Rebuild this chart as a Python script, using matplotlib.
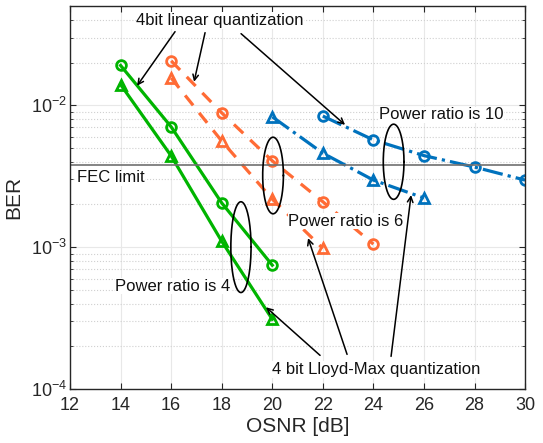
import numpy as np
import matplotlib
matplotlib.use("Agg")
import matplotlib.pyplot as plt
from matplotlib.ticker import LogLocator, NullFormatter, FixedLocator

plt.rcParams['font.family'] = ['Liberation Sans', 'DejaVu Sans']
plt.rcParams['mathtext.fontset'] = 'custom'
plt.rcParams['mathtext.rm'] = 'Liberation Sans'

# data
osnr_r4 = [14, 16, 18, 20]
ber_r4_lin = [0.0191, 7.05e-3, 2.05e-3, 7.46e-4]
ber_r4_lm = [0.0140, 4.4e-3, 1.1e-3, 3.1e-4]

osnr_r6_lin = [16, 18, 20, 22, 24]
ber_r6_lin = [0.0206, 8.85e-3, 4.06e-3, 2.09e-3, 1.05e-3]
osnr_r6_lm = [16, 18, 20, 22]
ber_r6_lm = [0.0156, 5.6e-3, 2.18e-3, 0.98e-3]

osnr_r10_lin = [22, 24, 26, 28, 30]
ber_r10_lin = [8.4e-3, 5.7e-3, 4.42e-3, 3.67e-3, 2.97e-3]
osnr_r10_lm = [20, 22, 24, 26]
ber_r10_lm = [8.3e-3, 4.6e-3, 2.97e-3, 2.22e-3]

fec_limit = 3.8e-3

green = '#00b400'
orange = '#ff6b35'
blue = '#0072bd'

fig = plt.figure(figsize=(5.43, 4.43), dpi=100)
ax = fig.add_axes([0.129, 0.122, 0.838, 0.864])

lw = 2.3
mk = dict(markersize=7, markerfacecolor='none', markeredgewidth=2)
ax.semilogy(osnr_r4, ber_r4_lin, '-', color=green, marker='o', lw=lw, **mk)
ax.semilogy(osnr_r4, ber_r4_lm, '-', color=green, marker='^', lw=lw, **mk)
ax.semilogy(osnr_r6_lin, ber_r6_lin, '--', color=orange, marker='o', lw=lw, dashes=(4, 3), **mk)
ax.semilogy(osnr_r6_lm, ber_r6_lm, '--', color=orange, marker='^', lw=lw, dashes=(4, 3), **mk)
ax.semilogy(osnr_r10_lin, ber_r10_lin, '-.', color=blue, marker='o', lw=lw, **mk)
ax.semilogy(osnr_r10_lm, ber_r10_lm, '-.', color=blue, marker='^', lw=lw, **mk)

ax.axhline(fec_limit, color='#707070', lw=1.2)

ax.set_xlim(12, 30)
ax.set_ylim(1e-4, 5e-2)
ax.set_xticks(np.arange(12, 31, 2))
ax.yaxis.set_major_locator(FixedLocator([1e-4, 1e-3, 1e-2]))
ax.set_yticklabels([r'$10^{-4}$', r'$10^{-3}$', r'$10^{-2}$'])
ax.yaxis.set_minor_locator(LogLocator(base=10, subs=np.arange(2, 10)))
ax.yaxis.set_minor_formatter(NullFormatter())

ax.grid(True, which='major', color='#e8e8e8', lw=0.8)
ax.grid(True, which='minor', axis='y', color='#d0d0d0', lw=0.8, linestyle=':')
ax.set_axisbelow(True)
ax.tick_params(which='both', direction='in', top=True, right=True, labelsize=13,
               colors='#262626', length=4)
ax.tick_params(axis='y', pad=2)
ax.tick_params(axis='x', pad=6)
ax.tick_params(which='minor', length=2.5)
for s in ax.spines.values():
    s.set_color('#262626')
    s.set_linewidth(1.0)

ax.set_xlabel('OSNR [dB]', fontsize=15, color='#262626', labelpad=2)
ax.set_ylabel('BER', fontsize=15, color='#262626', labelpad=6)


def pix2data(px, py):
    x = 12 + (px - 70) * 18 / 455
    y = 10 ** (-3 + (248 - py) / 141.5)
    return x, y


def ellipse(cx, cy, a, b):
    t = np.linspace(0, 2 * np.pi, 200)
    ax.plot(cx + a * np.cos(t), 10 ** (np.log10(cy) + b * np.sin(t)), color='k', lw=1.2)


ellipse(18.76, 1.0e-3, 0.4, 0.32)
ellipse(20.03, 3.2e-3, 0.41, 0.27)
ellipse(24.8, 4.0e-3, 0.41, 0.265)

fs = 12
labels = [('FEC limit', (77, 179), 'left'),
          ('4bit linear quantization', (220, 22), 'center'),
          ('Power ratio is 10', (441, 116), 'center'),
          ('Power ratio is 6', (346, 222), 'center'),
          ('Power ratio is 4', (173, 287), 'center'),
          ('4 bit Lloyd-Max quantization', (376, 370), 'center')]
for txt, pos, ha in labels:
    ax.text(*pix2data(*pos), txt, fontsize=fs, ha=ha, va='center', color='#111111',
            bbox=dict(facecolor='white', edgecolor='none', pad=0.5), zorder=5)

arrow = dict(arrowstyle='->', color='k', lw=1.1, shrinkA=0, shrinkB=0)
for start, end in [((175, 33), (137, 87)), ((205, 34), (194, 83)), ((241, 35), (345, 126)),
                   ((320, 356), (266, 308)), ((347, 355), (308, 239)), ((391, 357), (411, 196))]:
    ax.annotate('', xy=pix2data(*end), xytext=pix2data(*start), arrowprops=arrow, zorder=6)

fig.savefig('out.png', dpi=100)
